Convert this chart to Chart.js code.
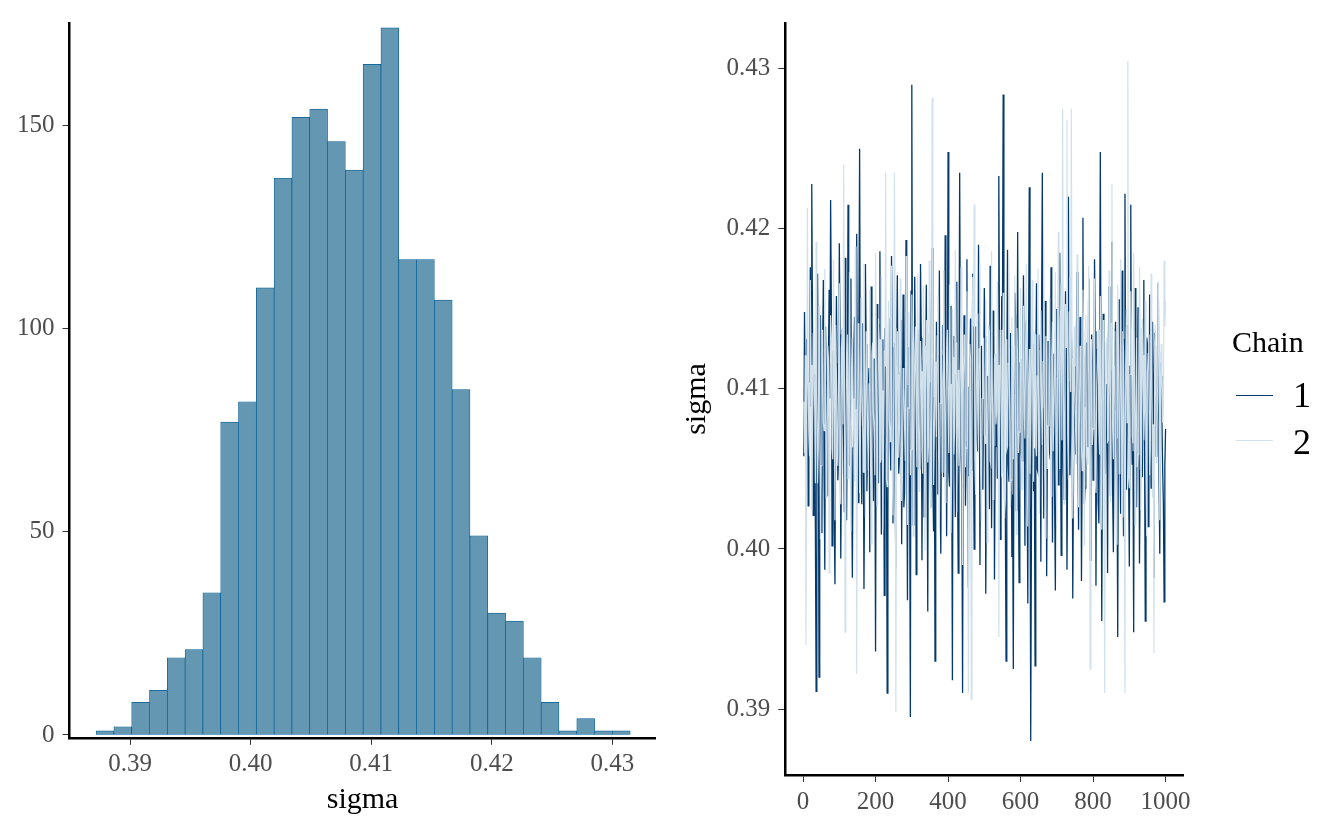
<!DOCTYPE html>
<html>
<head>
<meta charset="utf-8">
<script src="https://cdn.jsdelivr.net/npm/chart.js@4.4.1/dist/chart.umd.min.js"></script>
<style>
  html, body { margin: 0; padding: 0; background: #fff; }
  #wrap { position: relative; width: 1344px; height: 830px; overflow: hidden; font-family: "Liberation Serif", "Times New Roman", serif; }
  #hist { position: absolute; left: 0; top: 0; }
  #trace { position: absolute; left: 660px; top: 0; }
  .lg { position: absolute; line-height: 1; color: #000; white-space: nowrap; }
  .lgline { position: absolute; height: 1px; }
</style>
</head>
<body>
<div id="wrap">
  <canvas id="hist" width="660" height="830"></canvas>
  <canvas id="trace" width="684" height="830"></canvas>
  <div class="lg" style="left:1232px; top:327px; font-size:30px;">Chain</div>
  <div class="lgline" style="left:1236px; top:395px; width:37px; background:#03396c;"></div>
  <div class="lg" style="left:1293px; top:377px; font-size:36px;">1</div>
  <div class="lgline" style="left:1236px; top:440px; width:37px; background:#d1e1ec;"></div>
  <div class="lg" style="left:1293px; top:424px; font-size:36px;">2</div>
</div>
<script>
const serif = "'Liberation Serif', 'Times New Roman', serif";
const tickGrey = '#4d4d4d';

// histogram of sigma, 30 bins
const binStart = 0.387175;
const binWidth = 0.001477;
const binCounts = [1, 2, 8, 11, 19, 21, 35, 77, 82, 110,
                   137, 152, 154, 146, 139, 165, 174, 117, 117, 107,
                   85, 49, 30, 28, 19, 8, 1, 4, 1, 1];
const histXTicks = [0.39, 0.40, 0.41, 0.42, 0.43];
const histYTicks = [0, 50, 100, 150];

// trace, every 2nd iteration of each chain
const thin = 2;
const chain1 = [
  0.4058, 0.4148, 0.4092, 0.4038, 0.4131, 0.4112, 0.4027, 0.4060, 0.4104, 0.4176,
  0.4089, 0.4228, 0.4142, 0.4021, 0.4070, 0.4109, 0.4012, 0.3911, 0.4049, 0.4172,
  0.4101, 0.3920, 0.4031, 0.4146, 0.4083, 0.4010, 0.4125, 0.4168, 0.4046, 0.3987,
  0.4139, 0.4105, 0.4075, 0.4033, 0.4118, 0.4162, 0.4094, 0.4218, 0.4151, 0.4002,
  0.4067, 0.4124, 0.4019, 0.3978, 0.4087, 0.4158, 0.4116, 0.4043, 0.4060, 0.4191,
  0.4134, 0.3994, 0.4052, 0.4137, 0.4099, 0.4066, 0.4023, 0.4182, 0.4111, 0.4018,
  0.4080, 0.4215, 0.4157, 0.4052, 0.4093, 0.4169, 0.4039, 0.3982, 0.4063, 0.4123,
  0.4145, 0.4088, 0.4106, 0.4197, 0.4071, 0.4029, 0.4136, 0.4250, 0.4097, 0.4063,
  0.4028, 0.4141, 0.4084, 0.3975, 0.4050, 0.4178, 0.4128, 0.4036, 0.4069, 0.4102,
  0.4113, 0.3998, 0.4047, 0.4164, 0.4092, 0.4057, 0.4030, 0.4119, 0.4072, 0.3936,
  0.4117, 0.4153, 0.4061, 0.4041, 0.4140, 0.4186, 0.4098, 0.4009, 0.4055, 0.4131,
  0.4087, 0.3971, 0.4138, 0.4097, 0.4064, 0.3910, 0.4021, 0.4144, 0.4108, 0.4072,
  0.4049, 0.4183, 0.4126, 0.4016, 0.4079, 0.4129, 0.4035, 0.3989, 0.4112, 0.4171,
  0.4091, 0.4047, 0.4059, 0.4110, 0.4143, 0.4003, 0.4085, 0.4159, 0.4026, 0.4035,
  0.4120, 0.4193, 0.4068, 0.3968, 0.4102, 0.4126, 0.4044, 0.3895, 0.4161, 0.4290,
  0.4082, 0.4015, 0.4037, 0.4170, 0.4115, 0.3984, 0.4073, 0.4137, 0.4096, 0.4050,
  0.4054, 0.4178, 0.4132, 0.3993, 0.4078, 0.4118, 0.4020, 0.4062, 0.4103, 0.4165,
  0.4066, 0.3961, 0.4127, 0.4104, 0.4081, 0.4026, 0.4149, 0.4188, 0.4042, 0.4011,
  0.4095, 0.3930, 0.4058, 0.4142, 0.4121, 0.4034, 0.4076, 0.4174, 0.4033, 0.3997,
  0.4106, 0.4121, 0.4140, 0.4045, 0.4069, 0.4196, 0.4111, 0.4008, 0.4085, 0.4248,
  0.4048, 0.4039, 0.4099, 0.4152, 0.4062, 0.3918, 0.4130, 0.4133, 0.4074, 0.4020,
  0.4109, 0.4167, 0.4051, 0.3985, 0.4093, 0.4235, 0.4119, 0.4058, 0.4040, 0.3910,
  0.4084, 0.4146, 0.4122, 0.4027, 0.4067, 0.4181, 0.4036, 0.3976, 0.4101, 0.4115,
  0.4144, 0.4049, 0.4076, 0.4172, 0.4055, 0.4000, 0.4113, 0.4139, 0.4089, 0.4068,
  0.4061, 0.4190, 0.4124, 0.3990, 0.4083, 0.4127, 0.4041, 0.4037, 0.4098, 0.4163,
  0.4133, 0.3972, 0.4057, 0.4108, 0.4090, 0.4054, 0.4025, 0.4177, 0.4110, 0.4013,
  0.4077, 0.4149, 0.4135, 0.3981, 0.4064, 0.4120, 0.4103, 0.4044, 0.4048, 0.4233,
  0.4118, 0.4006, 0.4072, 0.4158, 0.4137, 0.4284, 0.4091, 0.4030, 0.4022, 0.3930,
  0.4105, 0.4187, 0.4053, 0.4042, 0.4128, 0.4135, 0.4080, 0.3995, 0.4034, 0.3925,
  0.4097, 0.4160, 0.4146, 0.4024, 0.4070, 0.4198, 0.4039, 0.3979, 0.4116, 0.4117,
  0.4060, 0.4055, 0.4107, 0.4171, 0.4086, 0.4002, 0.4139, 0.4143, 0.4045, 0.3966,
  0.4123, 0.4226, 0.4071, 0.3880, 0.4015, 0.4128, 0.4094, 0.4036, 0.4063, 0.3927,
  0.4112, 0.4166, 0.4050, 0.4048, 0.4134, 0.4111, 0.4079, 0.3992, 0.4148, 0.4235,
  0.4088, 0.4019, 0.4043, 0.4155, 0.4119, 0.3983, 0.4067, 0.4130, 0.4100, 0.4061,
  0.4056, 0.4176, 0.4127, 0.4004, 0.4092, 0.4122, 0.4031, 0.3974, 0.4108, 0.4150,
  0.4141, 0.4040, 0.4065, 0.4185, 0.4083, 0.3996, 0.4120, 0.4106, 0.4052, 0.4031,
  0.4096, 0.4161, 0.4134, 0.3987, 0.4058, 0.4220, 0.4105, 0.4046, 0.4073, 0.4136,
  0.4115, 0.3969, 0.4044, 0.4114, 0.4090, 0.4059, 0.4132, 0.4173, 0.4066, 0.4012,
  0.4081, 0.4145, 0.4125, 0.3980, 0.4057, 0.4207, 0.4097, 0.4028, 0.4038, 0.4118,
  0.4129, 0.4064, 0.4078, 0.4169, 0.4104, 0.3993, 0.4051, 0.4134, 0.4117, 0.4043,
  0.4070, 0.4181, 0.4136, 0.3977, 0.4085, 0.4125, 0.4029, 0.4016, 0.4113, 0.4248,
  0.4093, 0.3955, 0.4062, 0.4147, 0.4130, 0.4051, 0.4047, 0.4103, 0.4099, 0.3985,
  0.4124, 0.4164, 0.4074, 0.4033, 0.4111, 0.4192, 0.4035, 0.3998, 0.4087, 0.4126,
  0.4142, 0.4069, 0.4053, 0.3945, 0.4102, 0.4156, 0.4068, 0.4022, 0.4121, 0.4174,
  0.4059, 0.4008, 0.4131, 0.4222, 0.4080, 0.4037, 0.4107, 0.4140, 0.4046, 0.3989,
  0.4114, 0.4215, 0.4088, 0.4053, 0.4061, 0.3948, 0.4126, 0.4163, 0.4075, 0.4026,
  0.4100, 0.4151, 0.4137, 0.3991, 0.4049, 0.4119, 0.4091, 0.4045, 0.4119, 0.4168,
  0.4063, 0.3955, 0.4082, 0.4132, 0.4128, 0.4014, 0.4040, 0.4159, 0.4095, 0.4038,
  0.4072, 0.4142, 0.4109, 0.3982, 0.4135, 0.4127, 0.4058, 0.4060, 0.4086, 0.4166,
  0.4045, 0.3997, 0.4116, 0.4108, 0.4079, 0.4049, 0.4028, 0.3967, 0.4052, 0.4075
];
const chain2 = [
  0.4092, 0.4060, 0.4121, 0.3940, 0.4047, 0.4213, 0.4104, 0.4071, 0.4058, 0.4168,
  0.4115, 0.4024, 0.4069, 0.4135, 0.4128, 0.4089, 0.4041, 0.4192, 0.4097, 0.4041,
  0.4063, 0.4152, 0.4110, 0.4006, 0.4052, 0.4118, 0.4137, 0.4079, 0.4074, 0.4175,
  0.4101, 0.4032, 0.4045, 0.4127, 0.4119, 0.3985, 0.4083, 0.4146, 0.4132, 0.4063,
  0.4056, 0.4181, 0.4098, 0.4018, 0.4140, 0.4109, 0.4066, 0.4052, 0.4112, 0.4166,
  0.4049, 0.4028, 0.4125, 0.4138, 0.4078, 0.4240, 0.4106, 0.3948, 0.4061, 0.4122,
  0.4134, 0.4044, 0.4087, 0.4173, 0.4053, 0.4011, 0.4116, 0.4132, 0.4094, 0.4068,
  0.4042, 0.4189, 0.4108, 0.3922, 0.4070, 0.4141, 0.4127, 0.4035, 0.4059, 0.4157,
  0.4113, 0.4083, 0.4048, 0.4178, 0.4095, 0.4020, 0.4136, 0.4115, 0.4072, 0.4049,
  0.4103, 0.4162, 0.4060, 0.4003, 0.4122, 0.4129, 0.4085, 0.4074, 0.4046, 0.4185,
  0.4118, 0.4027, 0.4076, 0.4144, 0.4131, 0.4058, 0.4054, 0.4171, 0.4099, 0.4012,
  0.4067, 0.4124, 0.4114, 0.4235, 0.4043, 0.4039, 0.4105, 0.4155, 0.4081, 0.4067,
  0.4126, 0.4177, 0.4050, 0.4021, 0.4093, 0.4235, 0.4138, 0.3898, 0.4064, 0.4136,
  0.4109, 0.4057, 0.4077, 0.4169, 0.4124, 0.4030, 0.4044, 0.4113, 0.4102, 0.4076,
  0.4055, 0.4183, 0.4130, 0.4015, 0.4088, 0.4148, 0.4117, 0.4046, 0.4062, 0.4159,
  0.4121, 0.4008, 0.4073, 0.4121, 0.4139, 0.4081, 0.4051, 0.4172, 0.4096, 0.4036,
  0.4068, 0.4130, 0.4111, 0.4062, 0.4047, 0.4164, 0.4127, 0.3999, 0.4084, 0.4143,
  0.4135, 0.4054, 0.4065, 0.4180, 0.4107, 0.4025, 0.4041, 0.4282, 0.4119, 0.4040,
  0.4071, 0.4117, 0.4100, 0.4070, 0.4133, 0.4158, 0.4057, 0.4013, 0.4091, 0.4139,
  0.4123, 0.4048, 0.4050, 0.4174, 0.4112, 0.4029, 0.4079, 0.4126, 0.4137, 0.4085,
  0.4060, 0.4165, 0.4103, 0.4010, 0.4046, 0.4150, 0.4120, 0.4059, 0.4074, 0.4187,
  0.4129, 0.4023, 0.4086, 0.4112, 0.4052, 0.4066, 0.4115, 0.4176, 0.4069, 0.3990,
  0.4097, 0.4134, 0.4131, 0.4051, 0.4063, 0.4161, 0.4108, 0.3910, 0.4045, 0.4128,
  0.4118, 0.3906, 0.4072, 0.4170, 0.4139, 0.4215, 0.4056, 0.4034, 0.4101, 0.4147,
  0.4083, 0.4060, 0.4125, 0.4179, 0.4048, 0.4017, 0.4094, 0.4123, 0.4132, 0.4072,
  0.4066, 0.4156, 0.4110, 0.4004, 0.4077, 0.4140, 0.4136, 0.4055, 0.4053, 0.4186,
  0.4104, 0.4031, 0.4058, 0.4119, 0.4122, 0.4078, 0.4087, 0.4167, 0.4115, 0.3945,
  0.4070, 0.4137, 0.4134, 0.4047, 0.4049, 0.4160, 0.4099, 0.4019, 0.4128, 0.4131,
  0.4062, 0.4064, 0.4116, 0.4182, 0.4081, 0.4026, 0.4043, 0.4145, 0.4106, 0.4056,
  0.4127, 0.4171, 0.4074, 0.4009, 0.4138, 0.4116, 0.4060, 0.4073, 0.4092, 0.4163,
  0.4052, 0.4037, 0.4113, 0.4152, 0.4085, 0.4069, 0.4129, 0.4178, 0.4067, 0.4014,
  0.4100, 0.4125, 0.4047, 0.4080, 0.4121, 0.4168, 0.4078, 0.4042, 0.4135, 0.4134,
  0.4064, 0.4058, 0.4108, 0.4175, 0.4054, 0.4022, 0.4124, 0.4149, 0.4089, 0.4065,
  0.4117, 0.4188, 0.4071, 0.4007, 0.4133, 0.4120, 0.4050, 0.4077, 0.4102, 0.4157,
  0.4076, 0.4033, 0.4119, 0.4142, 0.4061, 0.4061, 0.4114, 0.4173, 0.4046, 0.4016,
  0.4130, 0.4198, 0.4090, 0.4050, 0.4142, 0.4166, 0.4068, 0.4275, 0.4111, 0.4028,
  0.4085, 0.4153, 0.4126, 0.4268, 0.4072, 0.4043, 0.4148, 0.4170, 0.4098, 0.4275,
  0.4119, 0.4019, 0.4063, 0.4139, 0.4105, 0.4072, 0.4053, 0.4184, 0.4126, 0.4026,
  0.4074, 0.4127, 0.4112, 0.4064, 0.4049, 0.4162, 0.4131, 0.4002, 0.4088, 0.4146,
  0.4058, 0.4053, 0.4123, 0.4177, 0.4082, 0.3925, 0.4107, 0.4131, 0.4065, 0.4075,
  0.4129, 0.4169, 0.4044, 0.4035, 0.4101, 0.4118, 0.4137, 0.4081, 0.4059, 0.4158,
  0.4093, 0.4012, 0.4120, 0.4143, 0.4055, 0.3910, 0.4096, 0.4129, 0.4132, 0.4067,
  0.4068, 0.4174, 0.4106, 0.4029, 0.4141, 0.4228, 0.4075, 0.4056, 0.4114, 0.4136,
  0.4048, 0.4003, 0.4091, 0.4165, 0.4127, 0.4047, 0.4061, 0.4181, 0.4103, 0.4020,
  0.4136, 0.4124, 0.4057, 0.3910, 0.4115, 0.4150, 0.4079, 0.4305, 0.4044, 0.4038,
  0.4109, 0.4161, 0.4132, 0.4071, 0.4066, 0.4185, 0.4118, 0.4015, 0.4083, 0.4132,
  0.4051, 0.4059, 0.4102, 0.4176, 0.4138, 0.4024, 0.4070, 0.4144, 0.4121, 0.4068,
  0.4089, 0.4155, 0.4047, 0.4008, 0.4110, 0.4122, 0.4134, 0.4046, 0.4062, 0.4172,
  0.4116, 0.4032, 0.4078, 0.3935, 0.4129, 0.4140, 0.4054, 0.4063, 0.4097, 0.4167,
  0.4123, 0.4018, 0.4067, 0.4128, 0.4112, 0.4079, 0.4086, 0.4180, 0.4139, 0.4155
];
const traceXTicks = [0, 200, 400, 600, 800, 1000];
const traceYTicks = [0.39, 0.40, 0.41, 0.42, 0.43];

// shared look of the ggplot classic axes
function axisStyle(tickVals, fmt) {
  return {
    afterBuildTicks: s => { s.ticks = tickVals.map(v => ({ value: v })); },
    grid: { display: true, drawOnChartArea: false, drawTicks: true, tickLength: 7, tickColor: '#333', tickWidth: 1, offset: false },
    border: { display: true, color: '#000', width: 2.5 },
    ticks: { color: tickGrey, font: { family: serif, size: 25 }, padding: 5, callback: fmt, autoSkip: false, maxRotation: 0 }
  };
}

const histData = binCounts.map((c, i) => ({ x: binStart + binWidth * (i + 0.5), y: c }));

const histX = axisStyle(histXTicks, v => v.toFixed(2));
histX.type = 'linear';
histX.offset = false;
histX.min = 0.38497;
histX.max = 0.4336;
histX.afterFit = s => { s.height = 92.2; };
histX.title = { display: true, text: 'sigma', color: '#000', font: { family: serif, size: 30 }, padding: { top: 0, bottom: 12 } };

const histY = axisStyle(histYTicks, v => String(v));
histY.min = -0.7;
histY.max = 175.2;
histY.afterFit = s => { s.width = 69.5; };
histY.ticks.padding = 8;

new Chart(document.getElementById('hist'), {
  type: 'bar',
  data: {
    datasets: [{
      data: histData,
      backgroundColor: '#6497b1',
      borderColor: '#005b96',
      borderWidth: 0.7,
      borderSkipped: false,
      barPercentage: 1,
      categoryPercentage: 1
    }]
  },
  options: {
    responsive: false,
    animation: false,
    devicePixelRatio: 1,
    events: [],
    layout: { padding: { top: 15, right: 4.3, left: 0, bottom: 0 } },
    plugins: { legend: { display: false }, tooltip: { enabled: false } },
    scales: { x: histX, y: histY }
  }
});

const traceX = axisStyle(traceXTicks, v => String(v));
traceX.type = 'linear';
traceX.min = -49;
traceX.max = 1050;
traceX.afterFit = s => { s.height = 55; };

const traceY = axisStyle(traceYTicks, v => v.toFixed(2));
traceY.min = 0.38588;
traceY.max = 0.43286;
traceY.afterFit = s => { s.width = 125.3; };
traceY.ticks.padding = 8;
traceY.title = { display: true, text: 'sigma', color: '#000', font: { family: serif, size: 30 }, padding: { top: 19, bottom: 0 } };

new Chart(document.getElementById('trace'), {
  type: 'line',
  data: {
    datasets: [
      { label: '1', data: chain1.map((v, i) => ({ x: (i + 1) * thin, y: v })), borderColor: '#03396c', borderWidth: 1.3, pointRadius: 0, tension: 0, order: 1 },
      { label: '2', data: chain2.map((v, i) => ({ x: (i + 1) * thin, y: v })), borderColor: '#d1e1ec', borderWidth: 1.2, pointRadius: 0, tension: 0, order: 0 }
    ]
  },
  options: {
    responsive: false,
    animation: false,
    devicePixelRatio: 1,
    events: [],
    layout: { padding: { top: 15, right: 160.3, left: 0, bottom: 0 } },
    plugins: { legend: { display: false }, tooltip: { enabled: false } },
    scales: { x: traceX, y: traceY }
  }
});
</script>
</body>
</html>
